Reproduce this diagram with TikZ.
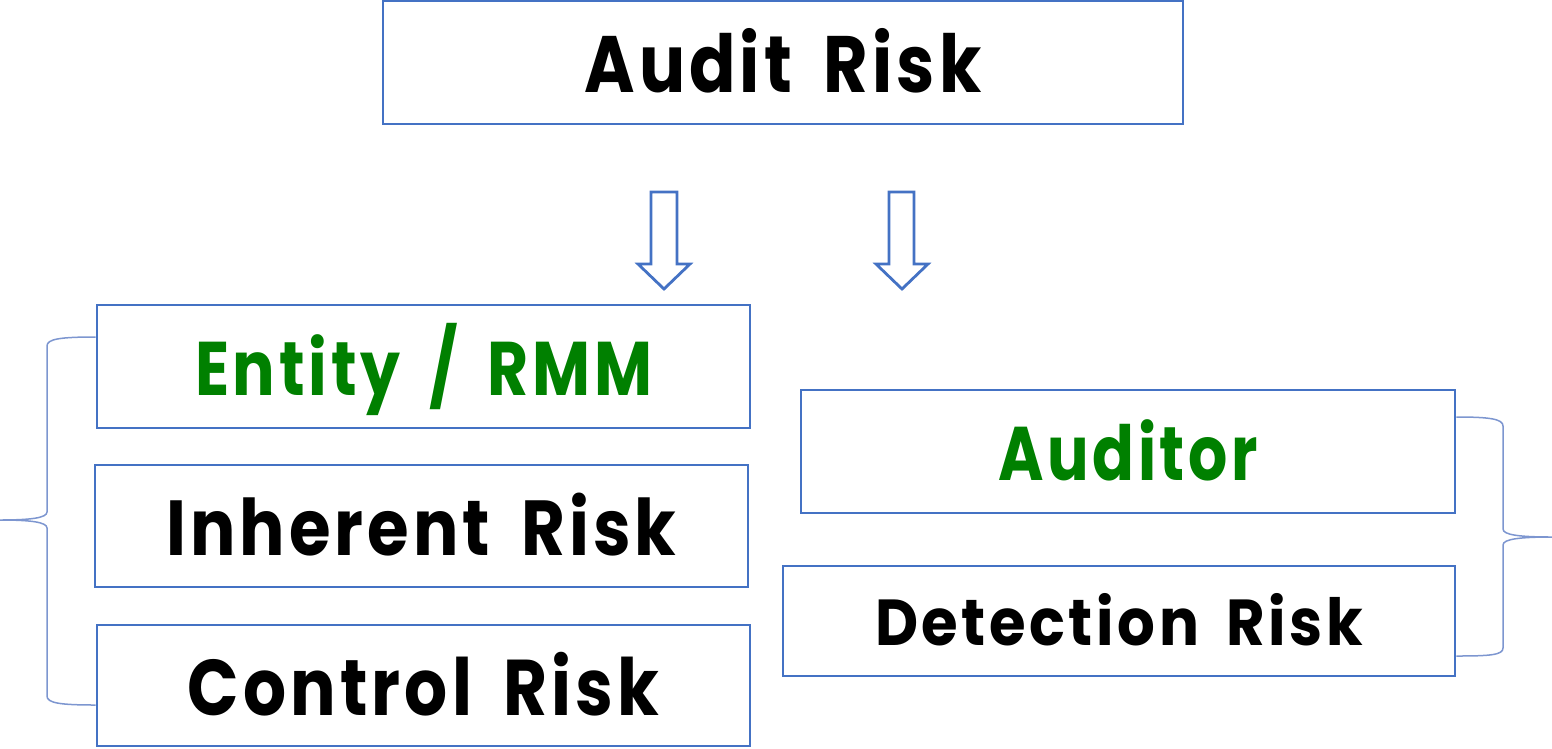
\documentclass[tikz,border=0pt]{standalone}
\usepackage{fontspec}
\usepackage{graphicx}
\setmainfont{Poppins}[BoldFont={* Bold},LetterSpace=6,WordSpace=1.7]
\definecolor{boxblue}{RGB}{68,114,196}
\definecolor{bracblue}{RGB}{125,150,208}
\definecolor{termgreen}{RGB}{0,128,0}
% set a label to a given width, keeping its height
\newcommand{\fitto}[2]{\resizebox{#1}{\height}{#2}}
\begin{document}
\begin{tikzpicture}[x=1pt,y=-1pt,
  riskbox/.style={draw=boxblue,line width=2.8pt,fill=white,inner sep=0pt,
    text height=60pt,text depth=0pt,font=\fontsize{80}{90}\selectfont\bfseries},
  brace/.style={draw=bracblue,line width=1.5pt},
  blockarrow/.style={draw=boxblue,line width=2.8pt,fill=white,line join=miter}]
\useasboundingbox (0,0) rectangle (1552,748);

% top box
\node[riskbox,minimum width=800pt,minimum height=123pt] (audit) at (783,62.5)
  {\fitto{397pt}{Audit Risk}};

% entity side
\node[riskbox,minimum width=653pt,minimum height=123pt,text=termgreen,
  font=\fontsize{76}{86}\selectfont\bfseries,text height=57pt] (entity) at (423.5,366.5)
  {\fitto{457pt}{Entity / RMM}};
\node[riskbox,minimum width=653pt,minimum height=122pt,
  font=\fontsize{78}{88}\selectfont\bfseries,text height=58pt] (inherent) at (421.5,526)
  {\fitto{510pt}{Inherent Risk}};
\node[riskbox,minimum width=653pt,minimum height=121pt,
  font=\fontsize{79}{89}\selectfont\bfseries,text height=59pt] (control) at (423.5,685.5)
  {\fitto{471pt}{Control Risk}};

% auditor side
\node[riskbox,minimum width=654pt,minimum height=123pt,text=termgreen,
  font=\fontsize{76}{86}\selectfont\bfseries,text height=58pt] (auditor) at (1128,451.5)
  {\fitto{260pt}{Auditor}};
\node[riskbox,minimum width=672pt,minimum height=110pt,
  font=\fontsize{65}{75}\selectfont\bfseries,text height=48pt] (detection) at (1119,621)
  {\fitto{488pt}{Detection Risk}};

% hollow down arrows
\draw[blockarrow] (651,192) -- (677,192) -- (677,264) -- (690,264) -- (664,289)
  -- (638,264) -- (651,264) -- cycle;
\draw[blockarrow] (889,192) -- (914,192) -- (914,264) -- (928,264) -- (902,289)
  -- (876,264) -- (889,264) -- cycle;

% left brace
\coordinate (lbtip) at (0,520);
\draw[brace] (entity.west |- 0,337) .. controls (60,337) and (47,339) .. (47,346)
  -- (47,512) .. controls (47,518) and (30,520) .. (lbtip)
  .. controls (30,520) and (47,522) .. (47,528)
  -- (47,696) .. controls (47,703) and (60,705) .. (control.west |- 0,705);

% right brace
\coordinate (rbtip) at (1552,537);
\draw[brace] (auditor.east |- 0,417) .. controls (1490,417) and (1503,419) .. (1503,426)
  -- (1503,529) .. controls (1503,535) and (1520,537) .. (rbtip)
  .. controls (1520,537) and (1503,539) .. (1503,545)
  -- (1503,648) .. controls (1503,655) and (1490,656) .. (detection.east |- 0,656);
\end{tikzpicture}
\end{document}
